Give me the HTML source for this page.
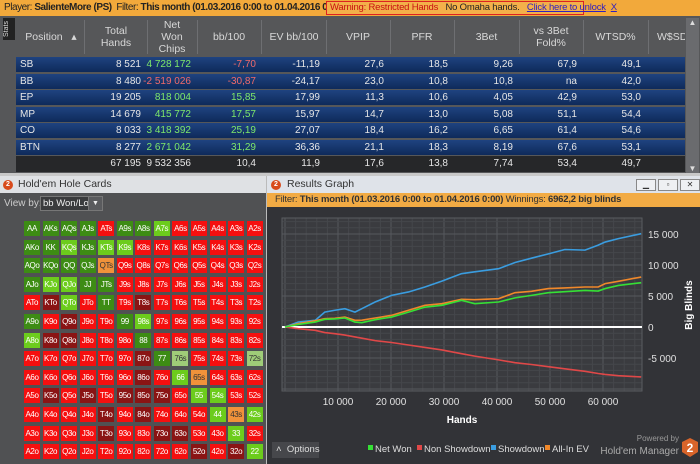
<!DOCTYPE html>
<html><head><meta charset="utf-8">
<style>
*{margin:0;padding:0;box-sizing:border-box}
body{width:700px;height:464px;overflow:hidden;background:#4e4f51;font-family:"Liberation Sans",sans-serif;font-size:11px;position:relative;color:#ddd}
.abs{position:absolute}
.topbar{left:0;top:0;width:700px;height:16px;background:#f2a93b;color:#222;font-size:10px;line-height:16px;padding-left:4px;white-space:nowrap;letter-spacing:-0.45px}
.warn{left:326px;top:1px;width:258px;height:14px;border:1px solid #d22;background:#f3b04a;line-height:12px;font-size:9.5px;padding-left:3px;white-space:nowrap;letter-spacing:-0.2px;color:#222}
.tbl{left:0;top:16px;width:700px;height:158px;background:#565759}
.hdr{top:18px;height:38px;color:#d8d8d8;font-size:10.5px;text-align:center;line-height:12px;display:flex;align-items:center;justify-content:center}
.sep{top:20px;width:1px;height:34px;background:#6e6f72}
.row{left:16px;width:669px;height:15px;background:linear-gradient(#1f4380,#0e2a5a);}
.cell{position:absolute;top:0;line-height:15px;text-align:right;color:#e6e6e6;font-size:10px}
.g{color:#7ee86a}.r{color:#f06a6a}
.hc{left:0;top:176px;width:266px;height:288px;background:#505153}
.card{position:absolute;width:16px;height:15px;font-size:8px;line-height:15px;text-align:center;color:#fff;letter-spacing:-0.4px;overflow:hidden}
.gw{left:267px;top:176px;width:433px;height:288px;background:#323337}
</style></head><body>
<div class="abs topbar">Player: <b>SalienteMore (PS)</b>&nbsp;&nbsp;Filter: <b>This month (01.03.2016 0:00 to 01.04.2016 0:00)</b></div>
<div class="abs warn"><span style="color:#c81010">Warning: Restricted Hands</span>&nbsp;&nbsp;&nbsp;No Omaha hands.&nbsp;&nbsp;&nbsp;<span style="color:#3020c0;text-decoration:underline">Click here to unlock</span>&nbsp;&nbsp;<span style="color:#3020c0;text-decoration:underline">X</span></div>
<div class="abs tbl"></div>
<div class="abs" style="left:3px;top:18px;width:12px;height:22px;background:#222;color:#ddd;font-size:7px;writing-mode:vertical-rl;transform:rotate(180deg);text-align:center">Stats</div>
<div class="abs hdr" style="left:20px;width:62px">Position&nbsp;&nbsp;&nbsp;▴</div>
<div class="abs hdr" style="left:85px;width:62px">Total<br>Hands</div>
<div class="abs hdr" style="left:148px;width:48px">Net<br>Won<br>Chips</div>
<div class="abs hdr" style="left:198px;width:62px">bb/100</div>
<div class="abs hdr" style="left:262px;width:64px">EV bb/100</div>
<div class="abs hdr" style="left:327px;width:62px">VPIP</div>
<div class="abs hdr" style="left:391px;width:62px">PFR</div>
<div class="abs hdr" style="left:455px;width:63px">3Bet</div>
<div class="abs hdr" style="left:520px;width:62px">vs 3Bet<br>Fold%</div>
<div class="abs hdr" style="left:584px;width:63px">WTSD%</div>
<div class="abs hdr" style="left:649px;width:36px;overflow:hidden;justify-content:flex-start;padding-left:8px;white-space:nowrap">W$SD%</div>
<div class="abs sep" style="left:84px"></div><div class="abs sep" style="left:147px"></div><div class="abs sep" style="left:197px"></div><div class="abs sep" style="left:261px"></div><div class="abs sep" style="left:326px"></div><div class="abs sep" style="left:390px"></div><div class="abs sep" style="left:454px"></div><div class="abs sep" style="left:519px"></div><div class="abs sep" style="left:583px"></div><div class="abs sep" style="left:648px"></div>
<div class="abs" style="left:686px;top:18px;width:13px;height:155px;background:#6a6b6e"><div style="color:#ddd;font-size:8px;text-align:center">▲</div><div style="position:absolute;bottom:0;width:13px;color:#ddd;font-size:8px;text-align:center">▼</div></div>
<div id="rows"></div>
<div class="abs" style="left:0;top:173px;width:700px;height:3px;background:#c8c8c8"></div>

<div class="abs hc"></div>
<div class="abs" style="left:0;top:176px;width:266px;height:17px;background:#dfe1e4;color:#333;font-size:10.5px;line-height:17px;padding-left:18px">Hold'em Hole Cards</div>
<div class="abs" style="left:3px;top:180px;width:10px;height:10px;border-radius:50%;background:#d84a1b;color:#fff;font-size:7px;text-align:center;line-height:10px;font-weight:bold">2</div>
<div class="abs" style="left:4px;top:198px;color:#ccc;font-size:10px">View by:</div>
<div class="abs" style="left:40px;top:196px;width:63px;height:15px;background:#3a3b3d;border:1px solid #777;color:#eee;font-size:9.5px;line-height:13px;padding-left:2px;white-space:nowrap;overflow:hidden">bb Won/Lost<span style="position:absolute;right:0;top:0;width:14px;height:13px;background:#5a5b5e;border-left:1px solid #777;font-size:7px;text-align:center">▼</span></div>
<div id="cards"></div>
<div class="abs" style="left:266px;top:176px;width:1px;height:288px;background:#bbb"></div>

<div class="abs gw"></div>
<div class="abs" style="left:267px;top:176px;width:433px;height:17px;background:#dfe3e9;color:#333;line-height:17px;padding-left:20px;font-size:10.5px">Results Graph</div>
<div class="abs" style="left:271px;top:180px;width:10px;height:10px;border-radius:50%;background:#d84a1b;color:#fff;font-size:7px;text-align:center;line-height:10px;font-weight:bold">2</div>
<div class="abs" style="left:636px;top:179px;width:20px;height:12px;border:1px solid #888;background:#eef0f3;font-size:8px;text-align:center;color:#333">▁</div>
<div class="abs" style="left:658px;top:179px;width:20px;height:12px;border:1px solid #888;background:#eef0f3;font-size:8px;text-align:center;color:#333">▫</div>
<div class="abs" style="left:680px;top:179px;width:20px;height:12px;border:1px solid #888;background:#eef0f3;font-size:8px;text-align:center;color:#333">✕</div>
<div class="abs" style="left:267px;top:193px;width:433px;height:14px;background:#f2ab44;color:#333;font-size:9.5px;line-height:14px;padding-left:8px;white-space:nowrap;letter-spacing:-0.2px">Filter: <b>This month (01.03.2016 0:00 to 01.04.2016 0:00)</b> Winnings: <b>6962,2 big blinds</b></div>
<svg class="abs" style="left:267px;top:207px" width="433" height="257" id="chart"></svg>
<div class="abs" style="left:272px;top:442px;width:47px;height:16px;background:#46474b;color:#ddd;font-size:9.5px;line-height:16px;padding-left:4px">˄&nbsp;&nbsp;Options</div>

<script>
// ---- table ----
const positions=["SB","BB","EP","MP","CO","BTN"];
const totalHands=["8 521","8 480","19 205","14 679","8 033","8 277"];
const netWon=["4 728 172","-2 519 026","818 004","415 772","3 418 392","2 671 042"];
const bb100=["-7,70","-30,87","15,85","17,57","25,19","31,29"];
const evbb=["-11,19","-24,17","17,99","15,97","27,07","36,36"];
const vpip=["27,6","23,0","11,3","14,7","18,4","21,1"];
const pfr=["18,5","10,8","10,6","13,0","16,2","18,3"];
const threeBet=["9,26","10,8","4,05","5,08","6,65","8,19"];
const vs3=["67,9","na","42,9","51,1","61,4","67,6"];
const wtsd=["49,1","42,0","53,0","54,4","54,6","53,1"];
const totals=["","67 195","9 532 356","10,4","11,9","17,6","13,8","7,74","53,4","49,7"];
const colRight=[0,141,191,256,320,384,448,513,577,641];
const rowsEl=document.getElementById('rows');
const rowTops=[57,74,90,107,123,140];
function addCell(row,txt,right,cls){const c=document.createElement('div');c.className='cell '+(cls||'');c.style.right=(685-right)+'px';c.textContent=txt;row.appendChild(c);}
for(let i=0;i<6;i++){
  const r=document.createElement('div');r.className='abs row';r.style.top=rowTops[i]+'px';
  
  
  const p=document.createElement('div');p.className='cell';p.style.left='4px';p.style.textAlign='left';p.textContent=positions[i];r.appendChild(p);
  const nw=netWon[i].startsWith('-')?'r':'g';
  const bb=bb100[i].startsWith('-')?'r':'g';
  addCell(r,totalHands[i],141);addCell(r,netWon[i],191,nw);addCell(r,bb100[i],256,bb);addCell(r,evbb[i],320);
  addCell(r,vpip[i],384);addCell(r,pfr[i],448);addCell(r,threeBet[i],513);addCell(r,vs3[i],577);addCell(r,wtsd[i],641);
  rowsEl.appendChild(r);
}
{const r=document.createElement('div');r.className='abs row';r.style.top='156px';r.style.height='16px';r.style.background='#262729';
 
 
 for(let k=1;k<totals.length;k++)addCell(r,totals[k],colRight[k]);rowsEl.appendChild(r);}

// ---- hole cards ----
const ranks="AKQJT98765432";
const cardColors=[
"GGGGRGGLRRRRR",
"GGLGLLRRRRRRR",
"GGGGORRRRRRRR",
"GLLGGRRRRRRRR",
"RDLRGRDRRRRRR",
"GRDRRGLRRRRRR",
"LDDRRRGRRRRRR",
"RRRRRRDGPRRRP",
"RRRRRRDRLORRR",
"RDRDRDDDRLLRR",
"RRRRDRDRRRLOL",
"RRRRDRRDDRRLR",
"RRRRRRRRRDRDL"];
const palette={G:"#3d8c14",L:"#6ccc1c",P:"#9fcc78",O:"#f0923a",R:"#f50f0f",D:"#8a1414"};
const cardsEl=document.getElementById('cards');
for(let i=0;i<13;i++)for(let j=0;j<13;j++){
  let lbl=i==j?ranks[i]+ranks[j]:(j>i?ranks[i]+ranks[j]+'s':ranks[j]+ranks[i]+'o');
  const c=document.createElement('div');c.className='card';
  
  
  const t=cardColors[i][j];
  c.style.left=(24+j*18.55)+'px';c.style.top=(221+i*18.6)+'px';c.style.background=palette[t];
  if(t=='O'||t=='P')c.style.color='#333';
  c.textContent=lbl;cardsEl.appendChild(c);
}

// ---- chart ----
const hands=[0,2500,5700,7500,9400,11300,13200,14500,17000,20100,23300,26400,29600,33300,35800,40300,43400,46500,49700,52800,56600,59100,60400,62900,67200];
const showdown=[0,800,1080,2400,2700,2950,2400,2950,4030,5100,5650,6450,7400,8600,8900,9400,10400,11100,11800,12500,12400,13200,13700,14250,15050];
const netWonBB=[0,400,800,1240,1300,1450,800,700,1180,1600,2400,3200,3500,4300,3760,4030,4700,5100,5540,5700,5900,5800,6200,6700,7150];
const allInEV=[0,540,1000,1340,1400,1600,1080,1100,1450,1880,2700,3500,3760,4460,4400,4570,5540,5750,6200,6300,6450,6450,7000,7370,8060];
const nonShowdown=[0,-270,-540,-900,-1080,-1300,-1600,-1800,-2200,-2500,-2900,-3300,-3700,-4300,-4700,-5300,-5750,-6050,-6400,-6750,-7150,-7500,-7650,-7850,-8060];
const xTicks=[10000,20000,30000,40000,50000,60000];
const xTickLabels=["10 000","20 000","30 000","40 000","50 000","60 000"];
const yTicks=[-5000,0,5000,10000,15000];
const yTickLabels=["-5 000","0","5 000","10 000","15 000"];
const NS="http://www.w3.org/2000/svg";
const svg=document.getElementById('chart');
const X=h=>18+h*0.0053, Y=v=>120-v*0.0062;
const PL=15,PR=375,PT=11,PB=184;
function el(tag,attrs,name){const e=document.createElementNS(NS,tag);for(const k in attrs)e.setAttribute(k,attrs[k]);if(name){}svg.appendChild(e);return e;}
el('rect',{x:PL,y:PT,width:PR-PL,height:PB-PT,fill:'#3a3b3f'},'plot-area');
for(let h=0;h<=70000;h+=2000){const x=X(h);if(x>PL&&x<PR)el('line',{x1:x,x2:x,y1:PT,y2:PB,stroke:h%10000==0?'#56585d':'#45474b','stroke-width':1});}
for(let v=-10000;v<=20000;v+=1000){const y=Y(v);if(y>PT&&y<PB)el('line',{x1:PL,x2:PR,y1:y,y2:y,stroke:v%5000==0?'#56585d':'#45474b','stroke-width':1});}
el('rect',{x:PL,y:PT,width:PR-PL,height:PB-PT,fill:'none',stroke:'#5a5c60'});
xTicks.forEach((t,i)=>{const tx=el('text',{x:X(t),y:198,fill:'#e0e0e0','font-size':'10','text-anchor':'middle'},'x-tick-label');tx.textContent=xTickLabels[i];});
yTicks.forEach((t,i)=>{const tx=el('text',{x:381,y:Y(t)+4,fill:'#e0e0e0','font-size':'10'},'y-tick-label');tx.textContent=yTickLabels[i];});
const xt=el('text',{x:195,y:216,fill:'#fff','font-size':'10','font-weight':'bold','text-anchor':'middle'},'x-axis-title');xt.textContent='Hands';
const yt=el('text',{x:0,y:0,fill:'#fff','font-size':'10','font-weight':'bold','text-anchor':'middle',transform:'translate(425,98) rotate(-90)'},'y-axis-title');yt.textContent='Big Blinds';
el('line',{x1:PL,x2:PR,y1:Y(0),y2:Y(0),stroke:'#fff','stroke-width':2},'zero-line');
function series(vals,color,name){el('polyline',{points:hands.map((h,i)=>X(h)+','+Y(vals[i])).join(' '),fill:'none',stroke:color,'stroke-width':1.6},name);}
series(nonShowdown,'#e04848','line-non-showdown');
series(showdown,'#3a9de0','line-showdown');
series(allInEV,'#f0882a','line-all-in-ev');
series(netWonBB,'#35e035','line-net-won');
const legend=[["Net Won","#35e035",101],["Non Showdown","#e04848",150],["Showdown","#3a9de0",224],["All-In EV","#f0882a",278]];
legend.forEach(l=>{el('rect',{x:l[2],y:238,width:5,height:5,fill:l[1]},'legend-swatch');const t=el('text',{x:l[2]+7,y:245,fill:'#ddd','font-size':'9.5'},'legend-entry');t.textContent=l[0];});
const pb=el('text',{x:412,y:234,fill:'#999','font-size':'8','text-anchor':'end'},'powered-by');pb.textContent='Powered by';
const hm=el('text',{x:412,y:247,fill:'#aaa','font-size':'10','text-anchor':'end'},'brand-name');hm.textContent="Hold'em Manager";
el('polygon',{points:'423,231 431,235 431,245 423,250 415,245 415,235',fill:'#d8642a'},'brand-logo');
const two=el('text',{x:423,y:245,fill:'#fff','font-size':'12','font-weight':'bold','text-anchor':'middle'});two.textContent='2';
</script>
</body></html>
